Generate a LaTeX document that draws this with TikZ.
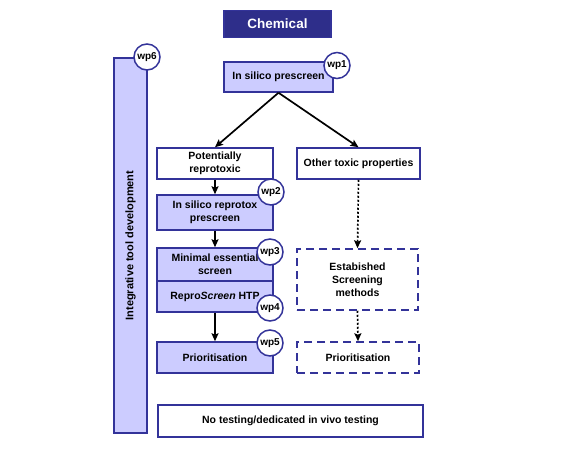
\documentclass[tikz,border=0pt]{standalone}
\usepackage{fontspec}
\setmainfont{Liberation Sans}
\usetikzlibrary{arrows.meta}
\definecolor{navy}{HTML}{333399}
\definecolor{darknavy}{HTML}{2E2E8A}
\definecolor{lav}{HTML}{CCCCFF}
\tikzset{
  box/.style={draw=navy, line width=1.5pt, fill=white, align=center, inner sep=1pt,
    font=\fontsize{10.5}{13}\selectfont\bfseries, text=black},
  lavbox/.style={box, fill=lav},
  dbox/.style={box, dash pattern=on 8pt off 5pt},
  wp/.style={circle, draw=navy, line width=1.5pt, fill=white, minimum size=26pt, inner sep=0pt,
    font=\fontsize{10}{11}\selectfont\bfseries},
  arr/.style={-{Stealth[length=8pt,width=7pt,inset=1.5pt]}, line width=1.7pt, black},
  darr/.style={arr, dash pattern=on 2pt off 2pt},
}
\begin{document}
\begin{tikzpicture}[x=1pt,y=-1pt]
\useasboundingbox (0,0) rectangle (571,464);
% left bar
\node[lavbox, minimum width=33pt, minimum height=375pt] (bar) at (130.5,245.5) {};
\node[rotate=90, font=\fontsize{11}{13}\selectfont\bfseries] (bartext) at (bar.center) {Integrative tool development};
% boxes
\node[box, fill=darknavy, draw=navy, minimum width=107pt, minimum height=27pt, text=white,
  font=\fontsize{13.5}{15}\selectfont\bfseries] (chem) at (277.5,24) {Chemical};
\node[lavbox, minimum width=109pt, minimum height=30pt] (pre) at (278.5,77) {In silico prescreen};
\node[box, minimum width=116pt, minimum height=31pt] (pot) at (215,163.5) {Potentially\\reprotoxic};
\node[box, minimum width=123pt, minimum height=31pt] (oth) at (358.5,163.5) {Other toxic properties};
\node[lavbox, minimum width=116pt, minimum height=35pt] (rep) at (215,212.5) {In silico reprotox\\prescreen};
\node[lavbox, minimum width=116pt, minimum height=33pt] (min) at (215,264.5) {Minimal essential\\screen};
\node[lavbox, minimum width=116pt, minimum height=31pt] (hts) at (215,296.5) {Repro\textit{Screen} HTP};
\node[dbox, minimum width=121pt, minimum height=61pt] (est) at (357.5,279.5) {Estabished\\Screening\\methods};
\node[lavbox, minimum width=116pt, minimum height=31pt] (prl) at (215,357.5) {Prioritisation};
\node[dbox, minimum width=122pt, minimum height=31pt] (prr) at (358,357.5) {Prioritisation};
\node[box, minimum width=265pt, minimum height=32pt] (no) at (290.5,421) {No testing/dedicated in vivo testing};
% wp circles
\node[wp] (wp1) at (337,65.5) {wp1};
\node[wp] (wp2) at (271,192) {wp2};
\node[wp] (wp3) at (270,252) {wp3};
\node[wp] (wp4) at (270,308) {wp4};
\node[wp] (wp5) at (270,343) {wp5};
\node[wp] (wp6) at (147,57) {wp6};
% arrows
\draw[arr] (pre.south) -- (pot.north);
\draw[arr] (pre.south) -- (oth.north);
\draw[arr] (pot.south) -- (rep.north);
\draw[arr] (rep.south) -- (min.north);
\draw[arr] (hts.south) -- (prl.north);
\draw[darr] (oth.south) -- (est.north);
\draw[darr] (est.south) -- (prr.north);
\end{tikzpicture}
\end{document}
